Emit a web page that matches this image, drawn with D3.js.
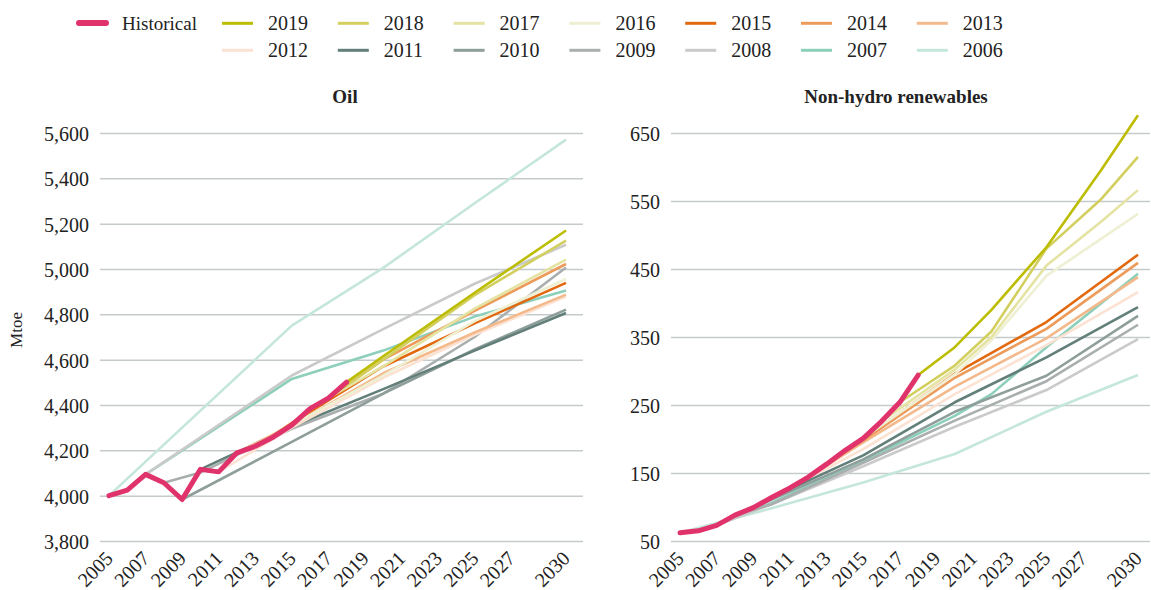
<!DOCTYPE html>
<html>
<head>
<meta charset="utf-8">
<script src="https://cdn.jsdelivr.net/npm/d3@7"></script>
<style>
  body { margin: 0; background: #fff; }
  svg text { font-family: "Liberation Serif", "Times New Roman", serif; fill: #222; }
</style>
</head>
<body>
<svg id="chart" width="1151" height="590"></svg>
<script>

// ---- data ----
const outlookYears = [2019, 2018, 2017, 2016, 2015, 2014, 2013, 2012, 2011, 2010, 2009, 2008, 2007, 2006];
const outlookColors = ['#bcbc00', '#d2cf5f', '#e4e3a2', '#efefd3', '#e3690f', '#ec9b5b', '#f3b98b',
                       '#fce2d2', '#637f79', '#8e9e9a', '#a9afae', '#cacaca', '#8ccfbb', '#c5e6db'];
const historicalColor = '#e0336b';

const xTicks = [2005, 2007, 2009, 2011, 2013, 2015, 2017, 2019, 2021, 2023, 2025, 2027, 2030];
const oilTicks = [3800, 4000, 4200, 4400, 4600, 4800, 5000, 5200, 5400, 5600];
const renTicks = [50, 150, 250, 350, 450, 550, 650];

// Oil, Mtoe : [year, value]
const oilHistorical = [[2005,4000],[2006,4024],[2007,4094],[2008,4057],[2009,3983],[2010,4116],[2011,4105],
                       [2012,4189],[2013,4218],[2014,4259],[2015,4311],[2016,4384],[2017,4430],[2018,4501]];
const oil2019 = [[2018,4501],[2020,4615],[2025,4895],[2030,5170]];
const oil2018 = [[2017,4430],[2020,4600],[2025,4885],[2030,5125]];
const oil2017 = [[2016,4384],[2020,4570],[2025,4825],[2030,5041]];
const oil2016 = [[2015,4311],[2020,4530],[2025,4770],[2030,4956]];
const oil2015 = [[2014,4259],[2015,4320],[2020,4570],[2025,4760],[2030,4939]];
const oil2014 = [[2013,4218],[2015,4320],[2020,4600],[2025,4815],[2030,5022]];
const oil2013 = [[2012,4189],[2015,4310],[2020,4540],[2025,4720],[2030,4887]];
const oil2012 = [[2011,4105],[2015,4300],[2020,4520],[2025,4710],[2030,4878]];
const oil2011 = [[2010,4116],[2015,4305],[2020,4470],[2025,4640],[2030,4806]];
const oil2010 = [[2009,3983],[2015,4237],[2020,4450],[2025,4645],[2030,4821]];
const oil2009 = [[2008,4057],[2010,4102],[2012,4180],[2015,4295],[2020,4450],[2025,4700],[2030,5007]];
const oil2008 = [[2007,4094],[2015,4530],[2020,4735],[2025,4935],[2030,5107]];
const oil2007 = [[2007,4094],[2015,4515],[2020,4640],[2025,4790],[2030,4905]];
const oil2006 = [[2005,4000],[2015,4750],[2020,5005],[2025,5290],[2030,5571]];

// Non-hydro renewables, Mtoe : [year, value]
const renHistorical = [[2005,62],[2006,65],[2007,73],[2008,88],[2009,99],[2010,114],[2011,128],
                       [2012,144],[2013,163],[2014,183],[2015,201],[2016,226],[2017,254],[2018,294]];
const ren2019 = [[2018,294],[2020,335],[2022,390],[2025,482],[2028,596],[2030,676]];
const ren2018 = [[2017,254],[2020,308],[2022,358],[2025,480],[2028,553],[2030,615]];
const ren2017 = [[2016,226],[2020,302],[2022,350],[2025,455],[2028,520],[2030,566]];
const ren2016 = [[2015,201],[2020,295],[2022,345],[2025,440],[2030,531]];
const ren2015 = [[2014,183],[2015,200],[2020,296],[2025,372],[2030,471]];
const ren2014 = [[2013,163],[2015,198],[2020,290],[2025,362],[2030,459]];
const ren2013 = [[2012,144],[2015,195],[2020,277],[2025,348],[2030,438]];
const ren2012 = [[2011,128],[2015,185],[2020,266],[2025,338],[2030,416]];
const ren2011 = [[2010,114],[2015,176],[2020,254],[2025,320],[2030,394]];
const ren2010 = [[2009,99],[2015,170],[2020,240],[2025,293],[2030,381]];
const ren2009 = [[2008,88],[2010,104],[2015,165],[2020,227],[2025,285],[2030,368]];
const ren2008 = [[2007,73],[2010,104],[2015,160],[2020,218],[2025,272],[2030,347]];
const ren2007 = [[2007,73],[2010,106],[2015,168],[2020,234],[2022,266],[2025,335],[2030,443]];
const ren2006 = [[2005,62],[2010,98],[2015,136],[2020,178],[2025,240],[2030,294]];

const oilOutlooks = [oil2019, oil2018, oil2017, oil2016, oil2015, oil2014, oil2013,
                     oil2012, oil2011, oil2010, oil2009, oil2008, oil2007, oil2006];
const renOutlooks = [ren2019, ren2018, ren2017, ren2016, ren2015, ren2014, ren2013,
                     ren2012, ren2011, ren2010, ren2009, ren2008, ren2007, ren2006];

const svg = d3.select('#chart');
const fontFamily = '"Liberation Serif", "Times New Roman", serif';


function draw_panel(p) {

  const g = svg.append('g');

  const x_scale = d3.scaleLinear().domain([2005, 2030]).range([p.x0, p.x1]);
  const y_scale = d3.scaleLinear().domain([p.ticks[0], p.ticks[p.ticks.length - 1]]).range([541, 133]);

  // gridlines + y labels
  g.append('g')
    .attr('transform', 'translate(' + p.gridLeft + ',0)')
    .call(d3.axisLeft(y_scale).tickValues(p.ticks).tickSize(-(p.gridRight - p.gridLeft))
            .tickPadding(11).tickFormat(d3.format(',')))
    .attr('font-family', fontFamily)
    .attr('font-size', 20)
    .call(a => a.select('.domain').remove())
    .call(a => a.selectAll('.tick line').attr('stroke', '#c5cbcb').attr('stroke-width', 1.5))
    .call(a => a.selectAll('.tick text').attr('fill', '#222').attr('dy', '0.38em'));

  // x labels, rotated
  g.append('g')
    .attr('transform', 'translate(0,541)')
    .call(d3.axisBottom(x_scale).tickValues(xTicks).tickSize(0).tickFormat(d3.format('d')))
    .attr('font-family', fontFamily)
    .attr('font-size', 20)
    .call(a => a.select('.domain').remove())
    .call(a => a.selectAll('.tick text')
      .attr('fill', '#222')
      .attr('y', 0)
      .attr('dy', '0.33em')
      .attr('text-anchor', 'end')
      .attr('transform', 'translate(0,14) rotate(-45)'));

  const line = d3.line()
    .x(d => x_scale(d[0]))
    .y(d => y_scale(d[1]));

  // oldest outlook first so newer ones sit on top
  for (let i = p.outlooks.length - 1; i >= 0; i--) {
    g.append('path')
      .datum(p.outlooks[i])
      .attr('fill', 'none')
      .attr('stroke', outlookColors[i])
      .attr('stroke-width', 2.6)
      .attr('stroke-linejoin', 'round')
      .attr('d', line);
  }

  g.append('path')
    .datum(p.historical)
    .attr('fill', 'none')
    .attr('stroke', historicalColor)
    .attr('stroke-width', 5)
    .attr('stroke-linejoin', 'round')
    .attr('stroke-linecap', 'round')
    .attr('d', line);

  g.append('text')
    .attr('x', p.titleX)
    .attr('y', 103)
    .attr('text-anchor', 'middle')
    .attr('font-size', 19)
    .attr('font-weight', 'bold')
    .text(p.title);
}


draw_panel({
  title: 'Oil', titleX: 345,
  x0: 109, x1: 566, gridLeft: 100, gridRight: 583,
  ticks: oilTicks, outlooks: oilOutlooks, historical: oilHistorical
});

draw_panel({
  title: 'Non-hydro renewables', titleX: 896,
  x0: 680, x1: 1138, gridLeft: 671, gridRight: 1150,
  ticks: renTicks, outlooks: renOutlooks, historical: renHistorical
});

// y axis title
svg.append('text')
  .attr('transform', 'translate(22,330) rotate(-90)')
  .attr('text-anchor', 'middle')
  .attr('font-size', 17)
  .text('Mtoe');

// legend
const legend = svg.append('g').attr('font-size', 20);

legend.append('line')
  .attr('x1', 79).attr('x2', 106).attr('y1', 23).attr('y2', 23)
  .attr('stroke', historicalColor).attr('stroke-width', 6).attr('stroke-linecap', 'round');
legend.append('text').attr('x', 122).attr('y', 29.5).attr('font-size', 19).text('Historical');

outlookYears.forEach(function(yr, i) {
  const col = i % 7;
  const row = Math.floor(i / 7);
  const lx = 222 + col * 115.8;
  const ly = 23.3 + row * 27;
  legend.append('line')
    .attr('x1', lx).attr('x2', lx + 31).attr('y1', ly).attr('y2', ly)
    .attr('stroke', outlookColors[i]).attr('stroke-width', 3);
  legend.append('text').attr('x', lx + 46).attr('y', ly + 6.5).text(yr);
});

</script>
</body>
</html>
